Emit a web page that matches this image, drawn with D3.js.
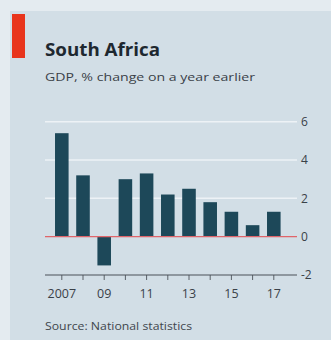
<!DOCTYPE html>
<html><head><meta charset="utf-8">
<script src="https://cdn.jsdelivr.net/npm/d3@7"></script>
<style>html,body{margin:0;padding:0;background:#e4ebf0;}svg{display:block;}</style>
</head><body>
<script>
const years = [2007,2008,2009,2010,2011,2012,2013,2014,2015,2016,2017];
const gdpGrowth = [5.4,3.2,-1.5,3.0,3.3,2.2,2.5,1.8,1.3,0.6,1.3];
const xTickLabels = {2007:"2007",2009:"09",2011:"11",2013:"13",2015:"15",2017:"17"};
const yTicks = [-2,0,2,4,6];
const yTickLabels = ["-2","0","2","4","6"];

const W=331,H=340;
const svg=d3.select("body").append("svg").attr("width",W).attr("height",H);
svg.append("rect").attr("x",0).attr("y",0).attr("width",W).attr("height",H).attr("fill","#e4ebf0");
svg.append("rect").attr("x",10).attr("y",11).attr("width",W-10).attr("height",H-11).attr("fill","#d2dee6");
svg.append("rect").attr("x",12).attr("y",14).attr("width",13).attr("height",44).attr("fill","#e8341c");

const font="'Open Sans', 'DejaVu Sans', sans-serif";
svg.append("text").attr("x",45).attr("y",56).attr("font-family",font).attr("font-weight","bold")
  .attr("font-size",18).attr("fill","#1e2830").attr("textLength",115).attr("lengthAdjust","spacingAndGlyphs").text("South Africa");
svg.append("text").attr("x",45).attr("y",81).attr("font-family",font)
  .attr("font-size",11).attr("fill","#3a4148").attr("textLength",210).attr("lengthAdjust","spacingAndGlyphs").text("GDP, % change on a year earlier");

const x=d3.scaleBand().domain(years).range([51.2,284.4]).paddingInner(0.36).paddingOuter(0.18);
const y=d3.scaleLinear().domain([-2,6]).range([275,121.7]);
const xl=45,xr=297;

// gridlines
svg.append("g").selectAll("line").data(yTicks.filter(d=>d>0)).join("line")
  .attr("x1",xl).attr("x2",xr).attr("y1",d=>y(d)).attr("y2",d=>y(d))
  .attr("stroke","#edf2f6").attr("stroke-width",1.5);

// bars
svg.append("g").selectAll("rect").data(years).join("rect")
  .attr("x",d=>x(d)).attr("width",x.bandwidth())
  .attr("y",(d,i)=>y(Math.max(0,gdpGrowth[i])))
  .attr("height",(d,i)=>Math.abs(y(gdpGrowth[i])-y(0)))
  .attr("fill","#1d4859");

// zero line
svg.append("line").attr("x1",xl).attr("x2",xr).attr("y1",y(0)).attr("y2",y(0))
  .attr("stroke","#e0656a").attr("stroke-width",1.2);

// bottom axis
const xAxis=d3.axisBottom(x).tickSize(5).tickFormat(d=>xTickLabels[d]||"");
const gx=svg.append("g").attr("transform",`translate(0,${y(-2)})`).call(xAxis);
gx.select(".domain").remove();
gx.selectAll(".tick line").attr("stroke","#5a6168");
gx.selectAll(".tick text").attr("font-family",font).attr("font-size",12.5).attr("fill","#3a4148").attr("dy","1.2em");
svg.append("line").attr("x1",xl).attr("x2",xr).attr("y1",y(-2)).attr("y2",y(-2)).attr("stroke","#4a5158").attr("stroke-width",1);

// right axis labels
const yAxis=d3.axisRight(y).tickValues(yTicks).tickSize(0).tickFormat((d,i)=>yTickLabels[yTicks.indexOf(d)]);
const gy=svg.append("g").attr("transform",`translate(${xr},0)`).call(yAxis);
gy.select(".domain").remove();
gy.selectAll(".tick text").attr("font-family",font).attr("font-size",12).attr("fill","#3a4148").attr("x",4);

svg.append("text").attr("x",45).attr("y",330).attr("font-family",font)
  .attr("font-size",10).attr("fill","#3f464d").attr("textLength",147).attr("lengthAdjust","spacingAndGlyphs").text("Source: National statistics");
</script>
</body></html>
